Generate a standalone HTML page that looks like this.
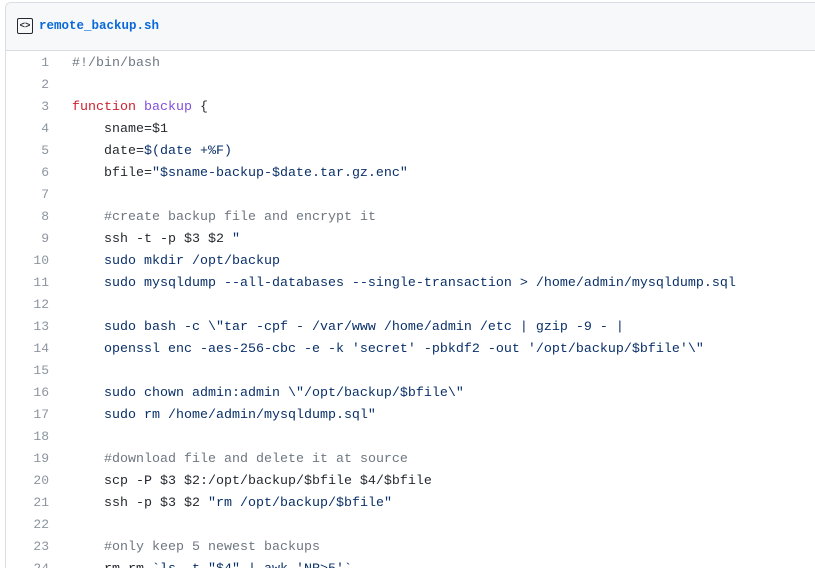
<!DOCTYPE html>
<html><head><meta charset="utf-8"><style>
html,body{margin:0;width:815px;height:568px;overflow:hidden;background:#fff;font-family:"Liberation Mono",monospace;}
body{position:relative;}
.box{position:absolute;left:5px;top:2px;width:830px;height:700px;border:1px solid #d8dee4;border-radius:6px;}
.hdr{position:absolute;left:0;top:0;right:0;height:47px;background:#f6f8fa;border-bottom:1px solid #d8dee4;border-radius:6px 6px 0 0;}
.icon{position:absolute;left:11px;top:15px;width:14px;height:14px;border:1.3px solid #24292f;border-radius:2px;font-size:9px;line-height:14px;text-align:center;color:#24292f;font-weight:bold;}
.title{position:absolute;left:33px;top:16px;font-size:12.5px;font-weight:bold;color:#0969da;}
.ln{position:absolute;left:0;width:49px;text-align:right;font-size:13px;color:#8c959f;}
.code{position:absolute;left:72px;font-size:13.33px;color:#24292f;white-space:pre;}
.c{color:#6e7781}.k{color:#cf222e}.f{color:#8250df}.s{color:#0a3069}
</style></head><body>
<div class="box"><div class="hdr"><div class="icon">&lt;&gt;</div><div class="title">remote_backup.sh</div></div></div>
<div id="lines"></div>
<script>
var L=[
'<span class="c">#!/bin/bash</span>',
'',
'<span class="k">function</span> <span class="f">backup</span> {',
'    sname=$1',
'    date=<span class="s">$(date +%F)</span>',
'    bfile=<span class="s">"$sname-backup-$date.tar.gz.enc"</span>',
'',
'    <span class="c">#create backup file and encrypt it</span>',
'    ssh -t -p $3 $2 <span class="s">"</span>',
'<span class="s">    sudo mkdir /opt/backup</span>',
'<span class="s">    sudo mysqldump --all-databases --single-transaction &gt; /home/admin/mysqldump.sql</span>',
'',
'<span class="s">    sudo bash -c \\"tar -cpf - /var/www /home/admin /etc | gzip -9 - |</span>',
'<span class="s">    openssl enc -aes-256-cbc -e -k \'secret\' -pbkdf2 -out \'/opt/backup/$bfile\'\\"</span>',
'',
'<span class="s">    sudo chown admin:admin \\"/opt/backup/$bfile\\"</span>',
'<span class="s">    sudo rm /home/admin/mysqldump.sql"</span>',
'',
'    <span class="c">#download file and delete it at source</span>',
'    scp -P $3 $2:/opt/backup/$bfile $4/$bfile',
'    ssh -p $3 $2 <span class="s">"rm /opt/backup/$bfile"</span>',
'',
'    <span class="c">#only keep 5 newest backups</span>',
'    rm rm <span class="s">`ls -t "$4" | awk \'NR&gt;5\'`</span>'
];
var h='';
for(var i=0;i<L.length;i++){var y=52+i*22;
h+='<div class="ln" style="top:'+(y+3)+'px">'+(i+1)+'</div><div class="code" style="top:'+(y+4)+'px">'+L[i]+'</div>';}
document.getElementById('lines').innerHTML=h;
</script>
</body></html>
